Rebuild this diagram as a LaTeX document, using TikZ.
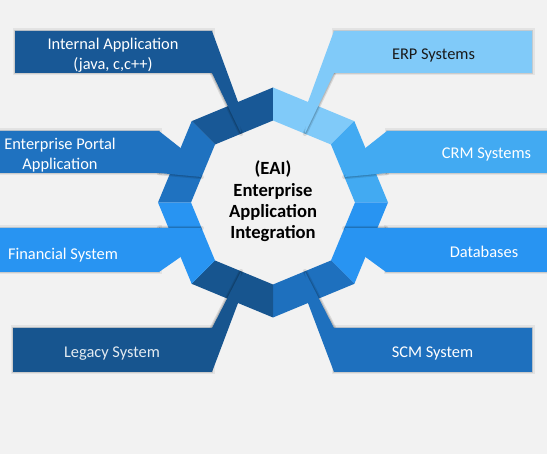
\documentclass[tikz,border=0pt]{standalone}
\usepackage{fontspec}
\setmainfont{Carlito}
\usetikzlibrary{calc}
\definecolor{bg}{HTML}{F2F2F2}
\definecolor{cInt}{HTML}{185896}
\definecolor{cLeg}{HTML}{17558F}
\definecolor{cPor}{HTML}{1F72C0}
\definecolor{cSCM}{HTML}{1E70BE}
\definecolor{cFin}{HTML}{2894F2}
\definecolor{cDB}{HTML}{2894F2}
\definecolor{cCRM}{HTML}{42AAF2}
\definecolor{cERP}{HTML}{80CAF9}
\tikzset{
  glow/.style={preaction={draw=black,opacity=.06,line width=5pt},
               preaction={draw=black,opacity=.10,line width=2.4pt}},
  shadeline/.style={draw=black, opacity=.10, line width=4.5pt, line cap=round,
                    preaction={draw=black, opacity=.14, line width=2.2pt}},
  tabtext/.style={font=\fontsize{16.4}{20}\selectfont, text=white, align=center, inner sep=0pt},
  centertext/.style={font=\bfseries\fontsize{18.6}{21.3}\selectfont, text=black, align=center, inner sep=0pt}
}
\begin{document}
\begin{tikzpicture}[x=1pt,y=-1pt]
\fill[bg] (0,0) rectangle (547,454);
\useasboundingbox (0,0) rectangle (547,454);
\coordinate (C) at (273,202.5);
\foreach \a in {0,45,...,315} {
  \coordinate (O\a) at ($(C)+(\a:115)$);
  \coordinate (I\a) at ($(C)+(\a:82)$);
}
% ring pieces
\fill[cInt] (O225)--(O270)--(I270)--(I225)--cycle;
\fill[cERP] (O270)--(O315)--(I315)--(I270)--cycle;
\fill[cCRM] (O315)--(O0)--(I0)--(I315)--cycle;
\fill[cDB]  (O0)--(O45)--(I45)--(I0)--cycle;
\fill[cSCM] (O45)--(O90)--(I90)--(I45)--cycle;
\fill[cLeg] (O90)--(O135)--(I135)--(I90)--cycle;
\fill[cFin] (O135)--(O180)--(I180)--(I135)--cycle;
\fill[cPor] (O180)--(O225)--(I225)--(I180)--cycle;
% strip joints
\coordinate (aO) at ($(O270)!0.43!(O225)$); \coordinate (aI) at ($(I270)!0.55!(I225)$);
\coordinate (bO) at ($(O270)!0.43!(O315)$); \coordinate (bI) at ($(I270)!0.55!(I315)$);
\coordinate (cO) at ($(O225)!0.33!(O180)$); \coordinate (cI) at ($(I225)!0.56!(I180)$);
\coordinate (dO) at ($(O315)!0.33!(O0)$);   \coordinate (dI) at ($(I315)!0.56!(I0)$);
\coordinate (eO) at ($(O135)!0.33!(O180)$); \coordinate (eI) at ($(I135)!0.56!(I180)$);
\coordinate (fO) at ($(O45)!0.33!(O0)$);    \coordinate (fI) at ($(I45)!0.56!(I0)$);
\coordinate (gO) at ($(O90)!0.43!(O135)$);  \coordinate (gI) at ($(I90)!0.55!(I135)$);
\coordinate (hO) at ($(O90)!0.43!(O45)$);   \coordinate (hI) at ($(I90)!0.55!(I45)$);
% box shadows
\path[glow] (15,31) rectangle (212,73);
\path[glow] (334,31) rectangle (532,73);
\path[glow] (-5,131) rectangle (159,173);
\path[glow] (387,131) rectangle (552,173);
\path[glow] (-5,228) rectangle (159,272);
\path[glow] (386,228) rectangle (552,272);
\path[glow] (13,328) rectangle (212,372);
\path[glow] (334,328) rectangle (532,372);
% crossing edge shadows
\draw[shadeline] (212,73)--(aI);
\draw[shadeline] (334,73)--(bI);
\draw[shadeline] (159,173)--(cI);
\draw[shadeline] (387,173)--(dI);
\draw[shadeline] (159,228)--(eI);
\draw[shadeline] (386,228)--(fI);
\draw[shadeline] (212,328)--(gI);
\draw[shadeline] (334,328)--(hI);
% tabs with strips
\fill[cInt] (15,31)--(212,31)--(aO)--(aI)--(212,73)--(15,73)--cycle;
\fill[cERP] (532,31)--(334,31)--(bO)--(bI)--(334,73)--(532,73)--cycle;
\fill[cPor] (-5,131)--(159,131)--(cO)--(cI)--(159,173)--(-5,173)--cycle;
\fill[cCRM] (552,131)--(387,131)--(dO)--(dI)--(387,173)--(552,173)--cycle;
\fill[cFin] (-5,272)--(159,272)--(eO)--(eI)--(159,228)--(-5,228)--cycle;
\fill[cDB]  (552,272)--(386,272)--(fO)--(fI)--(386,228)--(552,228)--cycle;
\fill[cLeg] (13,372)--(212,372)--(gO)--(gI)--(212,328)--(13,328)--cycle;
\fill[cSCM] (532,372)--(334,372)--(hO)--(hI)--(334,328)--(532,328)--cycle;
% texts
\node[tabtext] (tInt) at (113,55) {Internal Application\\(java, c,c++)};
\node[tabtext] (tPor) at (60,155) {Enterprise Portal\\Application};
\node[tabtext] (tFin) at (63,255) {Financial System};
\node[tabtext, text=white!88!cLeg] (tLeg) at (112,354) {Legacy System};
\node[tabtext, text=black!90] (tERP) at (433.5,56) {ERP Systems};
\node[tabtext] (tCRM) at (486.5,155) {CRM Systems};
\node[tabtext] (tDB) at (484,252) {Databases};
\node[tabtext] (tSCM) at (432.5,354) {SCM System};
\node[centertext] (ctr) at (273,201.5) {(EAI)\\Enterprise\\Application\\Integration};
\end{tikzpicture}
\end{document}
